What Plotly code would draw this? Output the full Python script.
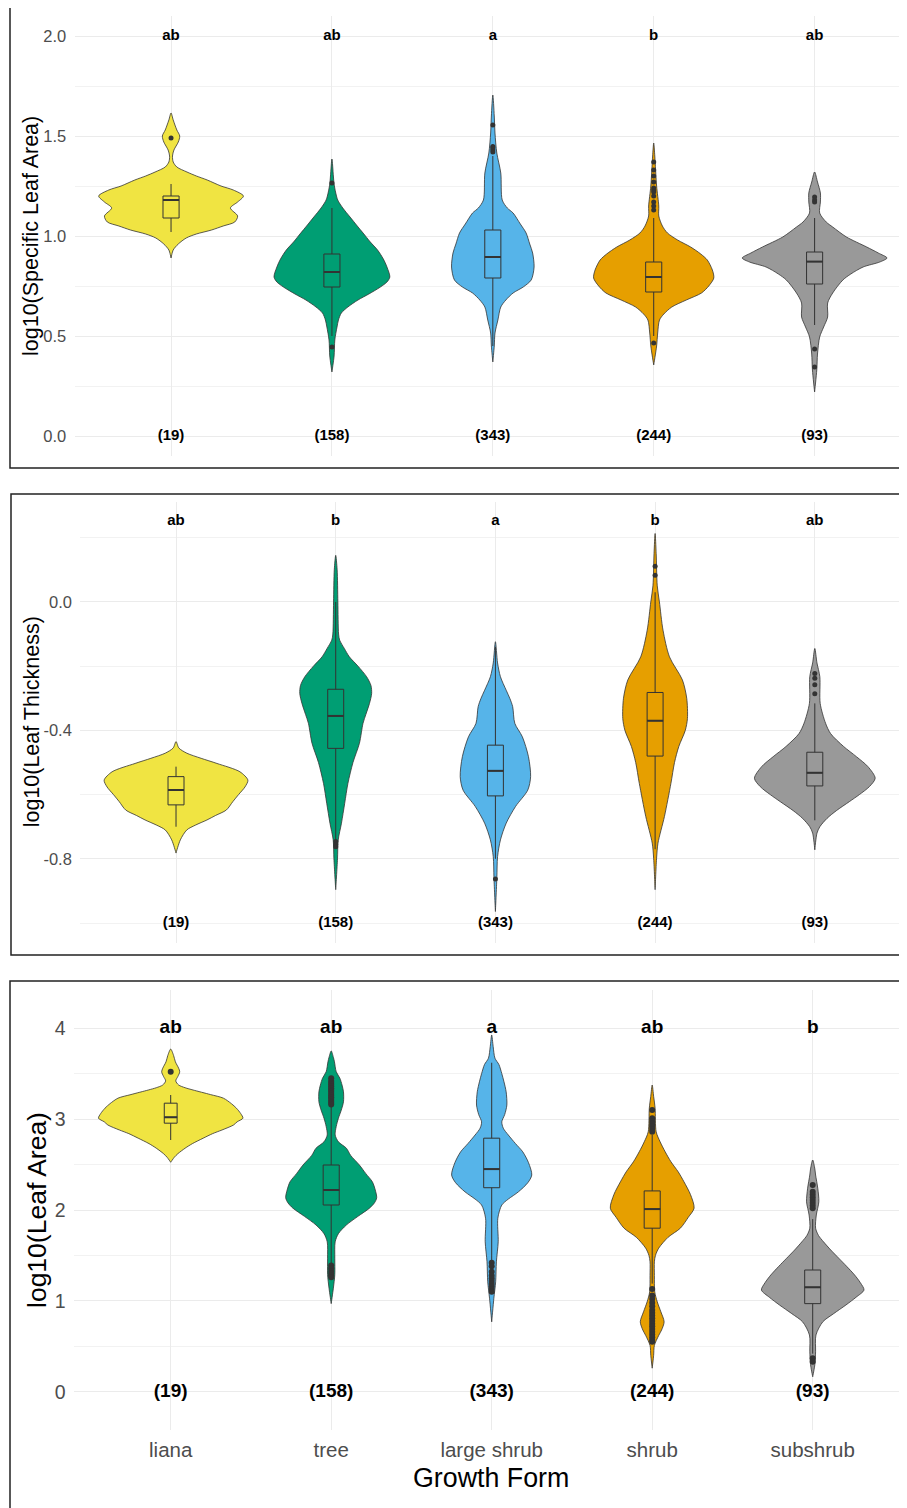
import plotly.graph_objects as go

# The page body has an 8px default margin; all pixel positions below are page pixels.
PAGE_OFF = 8
W, H = 899, 1500

CATS = ["liana", "tree", "large shrub", "shrub", "subshrub"]
COLORS = ["#F0E442", "#009E73", "#56B4E9", "#E69F00", "#999999"]
N_LABELS = ["(19)", "(158)", "(343)", "(244)", "(93)"]

SLA_LETTERS = ["ab", "ab", "a", "b", "ab"]
LT_LETTERS = ["ab", "b", "a", "b", "ab"]
LA_LETTERS = ["ab", "ab", "a", "ab", "b"]

# ---- violin density profiles: [value, relative density] ----
SLA_LIANA = [[1.615, 0], [1.58, .03], [1.53, .08], [1.50, .12], [1.47, .10], [1.43, .04], [1.40, .02],
             [1.37, .03], [1.345, .08], [1.32, .22], [1.30, .35], [1.28, .5], [1.25, .69], [1.23, .86],
             [1.20, 1.0], [1.17, .92], [1.14, .82], [1.10, .92], [1.07, .88], [1.05, .72], [1.03, .56],
             [1.01, .35], [0.99, .21], [0.96, .10], [0.93, .03], [0.89, 0]]
SLA_TREE = [[1.385, 0], [1.30, .02], [1.26, .03], [1.22, .05], [1.18, .08], [1.14, .15], [1.095, .25],
            [1.05, .35], [1.015, .43], [0.97, .53], [0.93, .63], [0.885, .71], [0.845, .76], [0.795, .80],
            [0.77, .76], [0.745, .67], [0.71, .51], [0.68, .36], [0.645, .22], [0.615, .13], [0.58, .09],
            [0.545, .07], [0.48, .04], [0.40, .03], [0.32, 0]]
SLA_LSHRUB = [[1.705, 0], [1.60, .02], [1.515, .03], [1.415, .055], [1.315, .11], [1.18, .13], [1.14, .2],
              [1.115, .28], [1.06, .38], [1.015, .46], [0.96, .51], [0.915, .55], [0.845, .57], [0.78, .53],
              [0.745, .42], [0.715, .28], [0.68, .18], [0.645, .11], [0.58, .07], [0.515, .03], [0.45, .02],
              [0.37, 0]]
SLA_SHRUB = [[1.465, 0], [1.40, .015], [1.25, .04], [1.15, .07], [1.10, .07], [1.05, .12], [1.015, .19],
             [0.98, .33], [0.945, .51], [0.91, .65], [0.88, .74], [0.83, .81], [0.79, .83], [0.75, .76],
             [0.715, .66], [0.68, .45], [0.645, .25], [0.61, .14], [0.58, .08], [0.515, .055], [0.45, .04],
             [0.355, 0]]
SLA_SUBSHRUB = [[1.32, 0], [1.27, .04], [1.215, .08], [1.17, .08], [1.115, .07], [1.07, .16], [1.045, .25],
                [0.995, .44], [0.945, .72], [0.915, .88], [0.89, 1.0], [0.87, .90], [0.845, .67], [0.81, .5],
                [0.78, .39], [0.715, .25], [0.665, .18], [0.595, .18], [0.545, .125], [0.495, .07],
                [0.41, .04], [0.33, .03], [0.22, 0]]

LT_LIANA = [[-0.435, 0], [-0.455, .04], [-0.471, .15], [-0.487, .35], [-0.503, .57], [-0.529, .89],
            [-0.555, 1.0], [-0.576, .96], [-0.60, .87], [-0.622, .79], [-0.648, .70], [-0.665, .55],
            [-0.679, .43], [-0.695, .27], [-0.71, .15], [-0.741, .06], [-0.782, 0]]
LT_TREE = [[0.145, 0], [0.10, .02], [0.0, .03], [-0.10, .04], [-0.119, .055], [-0.145, .12], [-0.171, .19],
           [-0.20, .31], [-0.233, .43], [-0.26, .49], [-0.285, .50], [-0.316, .47], [-0.35, .42],
           [-0.378, .38], [-0.44, .33], [-0.50, .24], [-0.565, .17], [-0.627, .125], [-0.689, .08],
           [-0.741, .035], [-0.80, .025], [-0.896, 0]]
LT_LSHRUB = [[-0.124, 0], [-0.19, .03], [-0.233, .07], [-0.275, .15], [-0.30, .20], [-0.326, .24],
             [-0.378, .27], [-0.42, .375], [-0.482, .46], [-0.544, .49], [-0.586, .45], [-0.637, .28],
             [-0.689, .15], [-0.741, .07], [-0.793, .03], [-0.86, .02], [-0.964, 0]]
LT_SHRUB = [[0.213, 0], [0.15, .015], [0.05, .03], [0.0, .06], [-0.088, .11], [-0.171, .20], [-0.243, .38],
            [-0.30, .44], [-0.363, .45], [-0.40, .42], [-0.45, .33], [-0.50, .27], [-0.565, .22],
            [-0.668, .13], [-0.751, .04], [-0.80, .02], [-0.896, 0]]
LT_SUBSHRUB = [[-0.145, 0], [-0.19, .03], [-0.233, .07], [-0.316, .075], [-0.378, .15], [-0.41, .22],
               [-0.45, .40], [-0.482, .58], [-0.513, .74], [-0.549, .84], [-0.575, .76], [-0.60, .62],
               [-0.622, .48], [-0.65, .30], [-0.674, .17], [-0.70, .07], [-0.72, .03], [-0.772, 0]]

LA_LIANA = [[3.77, 0], [3.70, .04], [3.63, .065], [3.56, .11], [3.52, .125], [3.47, .10], [3.42, .07],
            [3.375, .11], [3.345, .20], [3.32, .31], [3.27, .55], [3.23, .73], [3.17, .84], [3.12, .91],
            [3.06, .97], [3.01, 1.0], [2.97, .92], [2.935, .87], [2.88, .71], [2.84, .58], [2.79, .45],
            [2.73, .30], [2.68, .20], [2.62, .10], [2.58, .05], [2.525, 0]]
LA_TREE = [[3.75, 0], [3.68, .03], [3.63, .045], [3.52, .07], [3.45, .12], [3.375, .15], [3.30, .17],
           [3.19, .17], [3.10, .14], [3.01, .10], [2.92, .07], [2.825, .055], [2.75, .10], [2.68, .21],
           [2.60, .27], [2.495, .39], [2.40, .48], [2.31, .57], [2.22, .61], [2.135, .63], [2.08, .60],
           [2.02, .53], [1.93, .37], [1.835, .21], [1.74, .10], [1.65, .055], [1.47, .05], [1.29, .05],
           [1.14, .03], [0.97, 0]]
LA_LSHRUB = [[3.925, 0], [3.80, .02], [3.67, .045], [3.60, .10], [3.50, .14], [3.41, .17], [3.30, .20],
             [3.155, .21], [3.05, .18], [2.97, .14], [2.90, .16], [2.825, .23], [2.73, .33], [2.64, .43],
             [2.52, .51], [2.385, .555], [2.30, .50], [2.20, .37], [2.12, .23], [2.055, .14], [1.91, .085],
             [1.65, .09], [1.43, .065], [1.21, .055], [1.03, .03], [0.77, 0]]
LA_SHRUB = [[3.375, 0], [3.25, .02], [3.12, .04], [2.86, .055], [2.75, .11], [2.64, .18], [2.53, .26],
            [2.42, .36], [2.31, .44], [2.17, .53], [2.02, .58], [1.92, .50], [1.80, .39], [1.70, .22],
            [1.58, .09], [1.50, .045], [1.43, .03], [1.28, .03], [1.10, .035], [0.99, .07], [0.88, .12],
            [0.77, .165], [0.68, .13], [0.62, .09], [0.51, .03], [0.40, .02], [0.26, 0]]
LA_SUBSHRUB = [[2.55, 0], [2.45, .03], [2.385, .04], [2.24, .07], [2.09, .085], [1.945, .05], [1.80, .04],
               [1.72, .08], [1.65, .15], [1.56, .25], [1.47, .36], [1.38, .47], [1.285, .58], [1.20, .66],
               [1.12, .71], [1.04, .60], [0.955, .46], [0.86, .29], [0.77, .14], [0.625, .045], [0.44, .04],
               [0.30, .03], [0.165, 0]]

# ---- box statistics ----
SLA_Q1 = [1.09, 0.745, 0.79, 0.72, 0.76]
SLA_MED = [1.18, 0.82, 0.895, 0.795, 0.872]
SLA_Q3 = [1.20, 0.91, 1.03, 0.87, 0.92]
SLA_LO = [1.02, 0.50, 0.45, 0.50, 0.555]
SLA_HI = [1.26, 1.14, 1.40, 1.09, 1.09]
SLA_OUT = [[1.49], [1.265, 0.445], [1.555, 1.447, 1.43, 1.42, 1.44],
           [1.37, 1.33, 1.30, 1.27, 1.24, 1.23, 1.22, 1.20, 1.17, 1.15, 1.13, 0.465],
           [1.195, 1.18, 1.17, 0.435, 0.345]]

LT_Q1 = [-0.632, -0.456, -0.604, -0.48, -0.573]
LT_MED = [-0.586, -0.355, -0.526, -0.37, -0.532]
LT_Q3 = [-0.544, -0.272, -0.446, -0.282, -0.468]
LT_LO = [-0.70, -0.74, -0.80, -0.77, -0.68]
LT_HI = [-0.513, 0.0, -0.14, 0.03, -0.316]
LT_OUT = [[], [-0.746, -0.755, -0.762], [-0.863], [0.111, 0.083], [-0.223, -0.238, -0.258, -0.286]]

LA_Q1 = [2.955, 2.055, 2.245, 1.80, 0.97]
LA_MED = [3.02, 2.22, 2.45, 2.01, 1.15]
LA_Q3 = [3.175, 2.495, 2.79, 2.21, 1.34]
LA_LO = [2.77, 1.40, 1.43, 1.19, 0.42]
LA_HI = [3.265, 3.15, 3.62, 2.825, 1.90]
LA_OUT = [[3.52],
          [3.45, 3.42, 3.40, 3.38, 3.36, 3.34, 3.32, 3.30, 3.28, 3.26, 3.24, 3.22, 3.20, 3.18, 3.16,
           1.39, 1.36, 1.33, 1.30, 1.28, 1.26],
          [1.42, 1.38, 1.32, 1.28, 1.25, 1.22, 1.19, 1.16, 1.13, 1.10],
          [3.10, 3.01, 2.98, 2.95, 2.92, 2.89, 2.86, 1.13, 1.06, 1.02, 0.98, 0.94, 0.90, 0.87, 0.84,
           0.81, 0.78, 0.75, 0.72, 0.69, 0.66, 0.63, 0.60, 0.57, 0.55],
          [2.275, 2.20, 2.17, 2.14, 2.11, 2.08, 2.05, 2.02, 0.37, 0.33]]

# ---- styling / layout constants ----
FONT = "Liberation Sans, Arial, sans-serif"
TICK_GREY = "#4D4D4D"
OUTLINE = "#333333"
GRID = "#EBEBEB"
MINOR_GRID = "#F2F2F2"
VIOLIN_HALF = 0.45


def px_x(px):
    return (px - PAGE_OFF) / W


def px_y(py):
    return 1 - (py - PAGE_OFF) / H


PANELS = [
    dict(profiles=[SLA_LIANA, SLA_TREE, SLA_LSHRUB, SLA_SHRUB, SLA_SUBSHRUB],
         q1=SLA_Q1, med=SLA_MED, q3=SLA_Q3, lo=SLA_LO, hi=SLA_HI, out=SLA_OUT,
         letters=SLA_LETTERS, letter_y=2.0, n_y=0.0,
         yrange=[-0.1, 2.1], yticks=[0, 0.5, 1.0, 1.5, 2.0], yticktext=["0.0", "0.5", "1.0", "1.5", "2.0"],
         yminor=[0.25, 0.75, 1.25, 1.75],
         xleft=74.5, xpos1=171, xunit=160.9, ytop=16, ybot=456,
         title="log10(Specific Leaf Area)", title_x=31, title_size=21.5, tick_size=16.5,
         label_size=15, box_w=[0.1] * 5, msize=5, show_x=False,
         border=[10, 7, 468]),
    dict(profiles=[LT_LIANA, LT_TREE, LT_LSHRUB, LT_SHRUB, LT_SUBSHRUB],
         q1=LT_Q1, med=LT_MED, q3=LT_Q3, lo=LT_LO, hi=LT_HI, out=LT_OUT,
         letters=LT_LETTERS, letter_y=0.25, n_y=-1.0,
         yrange=[-1.062, 0.312], yticks=[-0.8, -0.4, 0.0], yticktext=["-0.8", "-0.4", "0.0"],
         yminor=[-1.0, -0.6, -0.2, 0.2],
         xleft=80.2, xpos1=176, xunit=159.7, ytop=501.7, ybot=943,
         title="log10(Leaf Thickness)", title_x=32, title_size=21.5, tick_size=16.5,
         label_size=15, box_w=[0.1] * 5, msize=5, show_x=False,
         border=[11, 494, 955]),
    dict(profiles=[LA_LIANA, LA_TREE, LA_LSHRUB, LA_SHRUB, LA_SUBSHRUB],
         q1=LA_Q1, med=LA_MED, q3=LA_Q3, lo=LA_LO, hi=LA_HI, out=LA_OUT,
         letters=LA_LETTERS, letter_y=4.0, n_y=0.0,
         yrange=[-0.42, 4.42], yticks=[0, 1, 2, 3, 4], yticktext=["0", "1", "2", "3", "4"],
         yminor=[0.5, 1.5, 2.5, 3.5],
         xleft=74.4, xpos1=170.7, xunit=160.5, ytop=990, ybot=1430,
         title="log10(Leaf Area)", title_x=37, title_size=26.5, tick_size=19.5,
         label_size=19, box_w=[0.08, 0.1, 0.1, 0.1, 0.1], msize=6, show_x=True,
         border=[10, 981, 1530]),
]

fig = go.Figure()
layout = dict(width=W, height=H, margin=dict(l=0, r=0, t=0, b=0),
              paper_bgcolor="white", plot_bgcolor="white", showlegend=False,
              font=dict(family=FONT, color="black"))
shapes, annotations = [], []

for p, P in enumerate(PANELS):
    i = p + 1
    j = p + 4
    xa = "x" if i == 1 else f"x{i}"
    ya = "y" if i == 1 else f"y{i}"
    xo, yo = f"x{j}", f"y{j}"
    xdom = [px_x(P["xleft"]), 1.0]
    ydom = [px_y(P["ybot"]), px_y(P["ytop"])]
    xr_right = 1 + (PAGE_OFF + W - P["xpos1"]) / P["xunit"]
    xrange = [0.4, xr_right]
    positions = list(range(1, len(CATS) + 1))

    layout["xaxis" if i == 1 else f"xaxis{i}"] = dict(
        domain=xdom, anchor=ya, range=xrange, tickmode="array", tickvals=positions,
        ticktext=CATS, showticklabels=P["show_x"], showgrid=True, gridcolor=GRID, gridwidth=1,
        zeroline=False, showline=False, ticks="outside" if P["show_x"] else "", ticklen=1,
        tickcolor="rgba(0,0,0,0)", tickfont=dict(family=FONT, size=20.5, color=TICK_GREY))
    layout["yaxis" if i == 1 else f"yaxis{i}"] = dict(
        domain=ydom, anchor=xa, range=P["yrange"], tickmode="array", tickvals=P["yticks"],
        ticktext=P["yticktext"], showgrid=True, gridcolor=GRID, gridwidth=1, zeroline=False,
        showline=False, ticks="outside", ticklen=4, tickcolor="rgba(0,0,0,0)",
        tickfont=dict(family=FONT, size=P["tick_size"], color=TICK_GREY),
        minor=dict(tickvals=P["yminor"], showgrid=True, gridcolor=MINOR_GRID, gridwidth=1, ticks=""))
    layout[f"xaxis{j}"] = dict(overlaying=xa, anchor=yo, range=xrange, visible=False)
    layout[f"yaxis{j}"] = dict(overlaying=ya, anchor=xo, range=P["yrange"], visible=False)

    # violins
    for k, prof in enumerate(P["profiles"]):
        c = positions[k]
        ys = [v[0] for v in prof]
        ds = [v[1] for v in prof]
        xs = [c + d * VIOLIN_HALF for d in ds] + [c - d * VIOLIN_HALF for d in reversed(ds)]
        yy = ys + list(reversed(ys))
        fig.add_trace(go.Scatter(x=xs, y=yy, xaxis=xa, yaxis=ya, mode="lines", fill="toself",
                                 fillcolor=COLORS[k], line=dict(color=OUTLINE, width=0.8, shape="spline",
                                                                smoothing=0.8),
                                 hoverinfo="skip"))
    # boxes (on overlay axes so they sit above violins)
    for k in range(len(CATS)):
        fig.add_trace(go.Box(x=[positions[k]], q1=[P["q1"][k]], median=[P["med"][k]], q3=[P["q3"][k]],
                             lowerfence=[P["lo"][k]], upperfence=[P["hi"][k]], xaxis=xo, yaxis=yo,
                             width=P["box_w"][k], whiskerwidth=0, fillcolor=COLORS[k],
                             line=dict(color=OUTLINE, width=1), boxpoints=False, hoverinfo="skip"))
    # thicker median lines
    mx, my = [], []
    for k in range(len(CATS)):
        hw = P["box_w"][k] / 2
        mx += [positions[k] - hw, positions[k] + hw, None]
        my += [P["med"][k], P["med"][k], None]
    fig.add_trace(go.Scatter(x=mx, y=my, xaxis=xo, yaxis=yo, mode="lines",
                             line=dict(color=OUTLINE, width=2), hoverinfo="skip"))
    # outliers
    ox, oy = [], []
    for k in range(len(CATS)):
        ox += [positions[k]] * len(P["out"][k])
        oy += P["out"][k]
    fig.add_trace(go.Scatter(x=ox, y=oy, xaxis=xo, yaxis=yo, mode="markers",
                             marker=dict(color=OUTLINE, size=P["msize"]), hoverinfo="skip"))
    # letters and counts
    fig.add_trace(go.Scatter(x=positions, y=[P["letter_y"]] * 5, xaxis=xo, yaxis=yo, mode="text",
                             text=[f"<b>{t}</b>" for t in P["letters"]],
                             textfont=dict(family=FONT, size=P["label_size"], color="black"),
                             hoverinfo="skip"))
    fig.add_trace(go.Scatter(x=positions, y=[P["n_y"]] * 5, xaxis=xo, yaxis=yo, mode="text",
                             text=[f"<b>{t}</b>" for t in N_LABELS],
                             textfont=dict(family=FONT, size=P["label_size"], color="black"),
                             hoverinfo="skip"))
    # y title
    annotations.append(dict(text=P["title"], xref="paper", yref="paper", x=px_x(P["title_x"]),
                            y=px_y((P["ytop"] + P["ybot"]) / 2), textangle=-90, showarrow=False,
                            xanchor="center", yanchor="middle",
                            font=dict(family=FONT, size=P["title_size"], color="black")))
    # panel border
    bx, by0, by1 = P["border"]
    shapes.append(dict(type="rect", xref="paper", yref="paper", x0=px_x(bx), x1=1.02,
                       y0=px_y(by1), y1=px_y(by0), line=dict(color="#222222", width=1.5),
                       fillcolor="rgba(0,0,0,0)", layer="above"))

annotations.append(dict(text="Growth Form", xref="paper", yref="paper", x=px_x(491), y=px_y(1478),
                        showarrow=False, xanchor="center", yanchor="middle",
                        font=dict(family=FONT, size=26.8, color="black")))

layout["shapes"] = shapes
layout["annotations"] = annotations
fig.update_layout(**layout)
fig.write_html("out.html")
